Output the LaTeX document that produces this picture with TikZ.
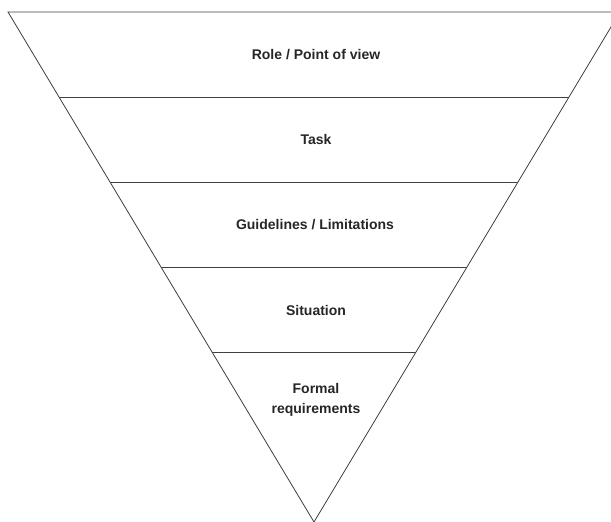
\documentclass[tikz,border=0pt]{standalone}
\usepackage{fontspec}
\setsansfont{Liberation Sans}
\usetikzlibrary{calc}

\tikzset{
edge/.style={draw=black!75, line width=0.8pt},
layertext/.style={font=\sffamily\bfseries\fontsize{14}{20}\selectfont,
text=black!85, align=center},
}

\begin{document}
\begin{tikzpicture}[x=1pt, y=1pt]
% 1pt = 1px of the reference
\useasboundingbox (0, 0) rectangle (611, 522);
\clip (0, 0) rectangle (611, 522);
\coordinate (tl) at (8, 510);
\coordinate (tr) at (620, 510);
\coordinate (tip) at (314, 0);
\draw[edge, line join=miter] (tl) -- (tr) -- (tip) -- cycle;
\foreach \h [count=\i] in {425, 340, 255, 170} {
	\coordinate (l\i) at ($(tl)!{(510-\h)/510}!(tip)$);
	\coordinate (r\i) at ($(tr)!{(510-\h)/510}!(tip)$);
	\draw[edge] (l\i) -- (r\i);
}
	\node[layertext] (role) at (316, 467) {Role / Point of view};
	\node[layertext] (task) at (316, 382) {Task};
	\node[layertext] (guide) at (315, 297) {Guidelines / Limitations};
	\node[layertext] (situ) at (316, 212) {Situation};
	\node[layertext] (formal) at (316, 122) {Formal\\requirements};
\end{tikzpicture}
\end{document}
